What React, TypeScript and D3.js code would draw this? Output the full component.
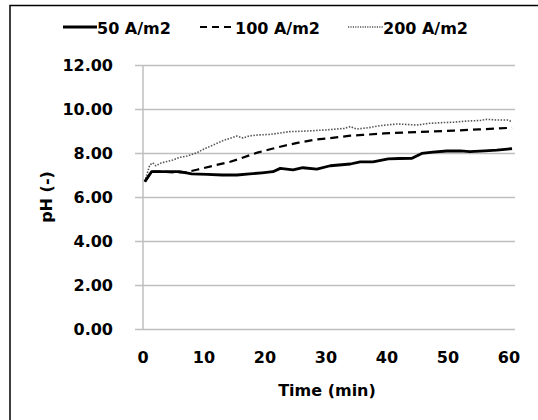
import React from "react";
import * as d3 from "d3";

const xTicks = [0, 10, 20, 30, 40, 50, 60];
const yTicks = [0, 2, 4, 6, 8, 10, 12];

const t50 = [0.3, 1.4, 3, 6, 8, 10.5, 13, 15.4, 17.5, 19.5, 21.3, 22.5, 24.6, 26.2, 28.5, 30.7, 34, 35.6, 37.7, 40.2, 42, 44.1, 45.7, 47.5, 49.8, 52, 53.6, 56, 58, 60.5];
const v50 = [6.7, 7.15, 7.15, 7.15, 7.05, 7.03, 7.0, 7.0, 7.05, 7.1, 7.15, 7.3, 7.23, 7.33, 7.27, 7.42, 7.5, 7.6, 7.6, 7.73, 7.75, 7.76, 7.98, 8.04, 8.09, 8.1, 8.06, 8.1, 8.13, 8.2];

const t100 = [0.3, 1.4, 3, 5, 6.9, 9, 11.5, 14.3, 16, 17.5, 18.9, 21, 23, 25.5, 28.5, 30.6, 34, 36, 39.5, 43, 47, 51, 55, 58, 60.5];
const v100 = [6.7, 7.15, 7.15, 7.12, 7.12, 7.25, 7.42, 7.6, 7.75, 7.9, 8.03, 8.18, 8.32, 8.47, 8.62, 8.67, 8.79, 8.82, 8.89, 8.93, 8.97, 9.02, 9.07, 9.11, 9.15];

const t200 = [0.3, 1.1, 1.6, 2.1, 3, 4.9, 6, 7.2, 8.8, 10, 11.5, 13, 14.8, 15.4, 16.4, 17.5, 18.9, 21, 24, 27, 30, 33, 34, 35, 37, 38.8, 41.6, 43, 44.9, 47, 49, 51, 53, 55.3, 56.4, 58, 59.7, 60.4];
const v200 = [6.7, 7.45, 7.55, 7.42, 7.55, 7.68, 7.8, 7.86, 8.01, 8.18, 8.36, 8.55, 8.72, 8.77, 8.68, 8.78, 8.82, 8.85, 8.97, 9.0, 9.05, 9.12, 9.2, 9.09, 9.15, 9.24, 9.32, 9.3, 9.27, 9.35, 9.38, 9.4, 9.45, 9.48, 9.53, 9.5, 9.5, 9.44];

const legendLabels = ["50 A/m2", "100 A/m2", "200 A/m2"];

const FONT = "'DejaVu Sans', sans-serif";

export default function App() {
  const x = d3.scaleLinear().domain([0, 60]).range([143, 509]);
  const y = d3.scaleLinear().domain([0, 12]).range([329, 65]);
  const line = d3
    .line<[number, number]>()
    .x((d) => x(d[0]))
    .y((d) => y(d[1]));
  const mk = (ts: number[], vs: number[]) => ts.map((t, i) => [t, vs[i]] as [number, number]);

  const series = [
    { data: mk(t200, v200), stroke: "#555", width: 1.6, dash: "1.5,1.5" },
    { data: mk(t100, v100), stroke: "#000", width: 2.2, dash: "8,5" },
    { data: mk(t50, v50), stroke: "#000", width: 2.8, dash: undefined as string | undefined },
  ];

  const legend = [
    { x1: 63, x2: 97, tx: 97, stroke: "#000", width: 2.8, dash: undefined as string | undefined },
    { x1: 200, x2: 235, tx: 235, stroke: "#000", width: 2, dash: "7,5" },
    { x1: 348, x2: 383, tx: 383, stroke: "#555", width: 1.3, dash: "1.2,1.2" },
  ];

  return (
    <svg
      width={538}
      height={420}
      style={{ position: "absolute", left: 0, top: 0, background: "#fff" }}
      fontFamily={FONT}
    >
      <rect x={10} y={5.5} width={540} height={430} fill="#fff" stroke="#000" strokeWidth={1.5} />
      {yTicks.map((v) => (
        <g key={v}>
          <line x1={135} x2={515} y1={Math.round(y(v)) + 0.5} y2={Math.round(y(v)) + 0.5} stroke="#bfbfbf" strokeWidth={1.5} />
          <text x={113} y={y(v)} dy="0.36em" textAnchor="end" fontSize={16} fontWeight="bold">
            {v.toFixed(2)}
          </text>
        </g>
      ))}
      <line x1={143} x2={143} y1={y(12)} y2={y(0)} stroke="#bfbfbf" strokeWidth={1.5} />
      {xTicks.map((v) => (
        <text key={v} x={x(v)} y={357} dy="0.36em" textAnchor="middle" fontSize={16} fontWeight="bold">
          {v}
        </text>
      ))}
      <text x={327} y={390} dy="0.36em" textAnchor="middle" fontSize={16} fontWeight="bold">
        Time (min)
      </text>
      <text
        transform="translate(46,197) rotate(-90)"
        dy="0.36em"
        textAnchor="middle"
        fontSize={16}
        fontWeight="bold"
      >
        pH (-)
      </text>
      {series.map((s, i) => (
        <path
          key={i}
          d={line(s.data) || ""}
          fill="none"
          stroke={s.stroke}
          strokeWidth={s.width}
          strokeDasharray={s.dash}
          strokeLinejoin="round"
        />
      ))}
      {legend.map((l, i) => (
        <g key={i}>
          <line x1={l.x1} x2={l.x2} y1={27} y2={27} stroke={l.stroke} strokeWidth={l.width} strokeDasharray={l.dash} />
          <text x={l.tx} y={28} dy="0.36em" fontSize={16} fontWeight="bold">
            {legendLabels[i]}
          </text>
        </g>
      ))}
    </svg>
  );
}
